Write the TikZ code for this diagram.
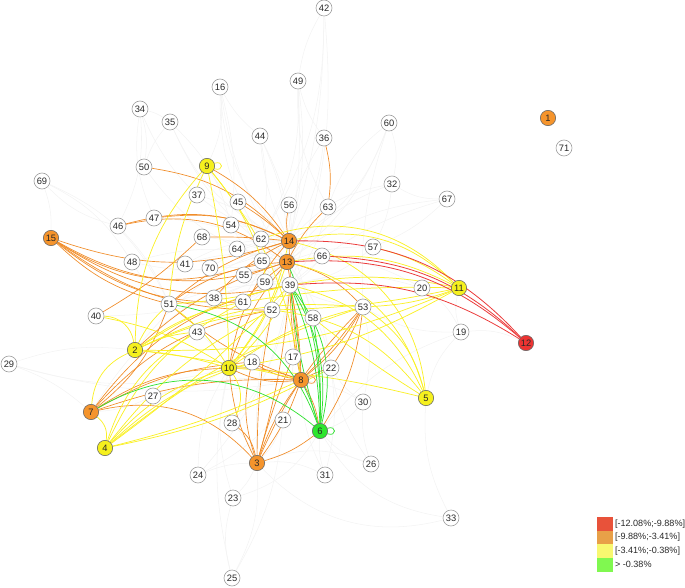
\documentclass[tikz,border=0pt]{standalone}
\usepackage{fontspec}
\setmainfont{Liberation Sans}
\pgfdeclarelayer{bg}
\pgfsetlayers{bg,main}
\definecolor{nor}{RGB}{245,148,44}
\definecolor{nye}{RGB}{245,240,30}
\definecolor{ngr}{RGB}{45,230,45}
\definecolor{nrd}{RGB}{236,52,50}
\definecolor{eor}{RGB}{240,140,40}
\definecolor{eye}{RGB}{250,240,40}
\definecolor{egr}{RGB}{50,225,50}
\definecolor{erd}{RGB}{235,60,60}
\definecolor{egy}{RGB}{243,243,243}
\definecolor{lrd}{RGB}{232,82,58}
\definecolor{lor}{RGB}{232,160,72}
\definecolor{lye}{RGB}{248,248,112}
\definecolor{lgr}{RGB}{128,248,80}
\definecolor{txt}{RGB}{40,40,40}
\tikzset{
  wn/.style={circle,draw=gray!75,fill=white,minimum size=12pt,inner sep=0pt,line width=0.45pt,
    font=\fontsize{7}{7}\selectfont,text=txt},
  on/.style={wn,fill=nor,draw=gray!80!black,minimum size=11.5pt},
  yn/.style={wn,fill=nye,draw=gray!80!black,minimum size=11.5pt},
  gn/.style={wn,fill=ngr,draw=gray!80!black,minimum size=11.5pt},
  rn/.style={wn,fill=nrd,draw=gray!80!black,minimum size=11.5pt},
  e-or/.style={draw=eor,line width=0.5pt},
  e-ye/.style={draw=eye,line width=0.55pt},
  e-gr/.style={draw=egr,line width=0.55pt},
  e-rd/.style={draw=erd,line width=0.6pt},
  e-gy/.style={draw=egy,line width=0.4pt},
  legsq/.style={minimum width=12pt,minimum height=10.2pt,inner sep=0pt,draw=none},
  legtx/.style={anchor=west,inner sep=0pt,font=\fontsize{6.8}{7}\selectfont,text=txt}
}
\begin{document}
\begin{tikzpicture}[x=0.75pt,y=0.75pt]
\useasboundingbox (0,0) rectangle (685,-588);
% nodes
\node[wn] (n42) at (324,-8) {42};
\node[wn] (n49) at (298,-81) {49};
\node[wn] (n16) at (220,-87) {16};
\node[wn] (n34) at (140,-109) {34};
\node[wn] (n35) at (170,-122) {35};
\node[wn] (n44) at (260,-136) {44};
\node[wn] (n36) at (324,-138) {36};
\node[wn] (n60) at (389,-123) {60};
\node[on] (n1) at (548,-118) {1};
\node[wn] (n71) at (564,-148) {71};
\node[wn] (n50) at (144,-167) {50};
\node[yn] (n9) at (207,-166) {9};
\node[wn] (n69) at (42,-181) {69};
\node[wn] (n32) at (392,-184) {32};
\node[wn] (n67) at (447,-199) {67};
\node[wn] (n37) at (197,-195) {37};
\node[wn] (n45) at (238,-202) {45};
\node[wn] (n56) at (289,-205) {56};
\node[wn] (n63) at (328,-207) {63};
\node[wn] (n47) at (154,-218) {47};
\node[wn] (n46) at (118,-226) {46};
\node[wn] (n54) at (231,-225) {54};
\node[on] (n15) at (51,-238) {15};
\node[wn] (n68) at (202,-237) {68};
\node[wn] (n62) at (261,-239) {62};
\node[on] (n14) at (289,-241) {14};
\node[wn] (n64) at (237,-249) {64};
\node[wn] (n57) at (373,-247) {57};
\node[wn] (n66) at (322,-256) {66};
\node[on] (n13) at (287,-262) {13};
\node[wn] (n48) at (132,-262) {48};
\node[wn] (n41) at (185,-264) {41};
\node[wn] (n65) at (262,-261) {65};
\node[wn] (n70) at (210,-268) {70};
\node[wn] (n55) at (244,-275) {55};
\node[wn] (n59) at (265,-282) {59};
\node[wn] (n39) at (290,-285) {39};
\node[wn] (n20) at (422,-288) {20};
\node[yn] (n11) at (459,-288) {11};
\node[wn] (n38) at (214,-298) {38};
\node[wn] (n61) at (243,-302) {61};
\node[wn] (n51) at (169,-304) {51};
\node[wn] (n52) at (272,-310) {52};
\node[wn] (n53) at (363,-307) {53};
\node[wn] (n40) at (96,-316) {40};
\node[wn] (n58) at (313,-318) {58};
\node[wn] (n19) at (461,-332) {19};
\node[rn] (n12) at (526,-343) {12};
\node[wn] (n43) at (197,-332) {43};
\node[yn] (n2) at (135,-350) {2};
\node[wn] (n29) at (9,-364) {29};
\node[wn] (n18) at (252,-362) {18};
\node[wn] (n17) at (293,-357) {17};
\node[yn] (n10) at (229,-368) {10};
\node[wn] (n22) at (331,-368) {22};
\node[on] (n8) at (301,-380) {8};
\node[yn] (n5) at (426,-398) {5};
\node[wn] (n27) at (153,-396) {27};
\node[on] (n7) at (91,-412) {7};
\node[wn] (n30) at (363,-402) {30};
\node[wn] (n28) at (232,-423) {28};
\node[wn] (n21) at (283,-420) {21};
\node[gn] (n6) at (320,-431) {6};
\node[yn] (n4) at (105,-448) {4};
\node[on] (n3) at (257,-463) {3};
\node[wn] (n26) at (371,-464) {26};
\node[wn] (n24) at (198,-475) {24};
\node[wn] (n31) at (325,-475) {31};
\node[wn] (n23) at (233,-498) {23};
\node[wn] (n33) at (451,-518) {33};
\node[wn] (n25) at (232,-578) {25};
% legend
\node[legsq,fill=lrd] (l1) at (604.5,-524) {};
\node[legsq,fill=lor] (l2) at (604.5,-537.6) {};
\node[legsq,fill=lye] (l3) at (604.5,-551.2) {};
\node[legsq,fill=lgr] (l4) at (604.5,-564.8) {};
\node[legtx] (t1) at ([xshift=1.5pt]l1.east) {[-12.08\%;-9.88\%]};
\node[legtx] (t2) at ([xshift=1.5pt]l2.east) {[-9.88\%;-3.41\%]};
\node[legtx] (t3) at ([xshift=1.5pt]l3.east) {[-3.41\%;-0.38\%]};
\node[legtx] (t4) at ([xshift=1.5pt]l4.east) {> -0.38\%};
\begin{pgfonlayer}{bg}
% faint gray edges
\foreach \a/\b/\c in {n42/n49/-10,n42/n39/12,n42/n62/15,n42/n14/8,n49/n14/10,n49/n63/-15,n49/n36/-10,n49/n62/15,n49/n13/6,
 n16/n9/15,n16/n44/-10,n16/n62/-15,n16/n14/-20,n16/n13/-12,n16/n54/10,n34/n50/12,n34/n35/10,n34/n47/-15,n34/n46/15,n34/n14/-25,
 n35/n50/-10,n35/n54/15,n35/n14/-20,n35/n13/-15,n44/n62/10,n44/n14/-10,n44/n13/12,n44/n39/15,n36/n14/12,n36/n13/-15,
 n60/n32/15,n60/n63/-15,n60/n14/20,n60/n13/15,n60/n53/-10,n32/n67/-15,n32/n57/10,n32/n13/-15,n32/n14/-18,n67/n13/-15,n67/n57/10,n67/n39/-12,
 n69/n46/-15,n69/n48/15,n69/n51/20,n69/n15/10,n48/n51/-10,n48/n13/15,n41/n13/15,n70/n14/15,n64/n14/10,n65/n14/10,n55/n13/10,
 n59/n13/10,n38/n13/15,n61/n14/12,n57/n13/-10,n66/n13/10,n66/n39/10,n20/n13/-18,n20/n19/15,n19/n12/15,n19/n5/-15,n19/n53/15,
 n19/n11/15,n19/n6/-15,n29/n10/-15,n29/n7/10,n29/n2/12,n29/n8/-12,n30/n6/15,n30/n22/10,n30/n53/-12,n30/n8/-10,n26/n6/15,n26/n3/-20,
 n26/n30/10,n26/n22/12,n31/n6/10,n31/n3/-15,n31/n22/-10,n31/n8/12,n33/n5/15,n33/n6/25,n33/n3/30,n24/n3/10,n24/n10/15,n24/n8/-15,
 n23/n3/-10,n23/n10/15,n23/n6/-20,n25/n23/15,n25/n3/-15,n25/n21/-12,n25/n10/12,n27/n7/10,n27/n10/-10,n27/n8/10,n28/n3/10,n21/n3/12,
 n17/n8/10,n18/n10/10,n43/n10/10,n58/n39/10,n22/n39/-15,n37/n9/10,n45/n9/10,n54/n14/10,n47/n13/15,n46/n51/10,n50/n13/-20,
 n37/n13/20,n41/n14/15,n62/n13/10,n65/n39/10,n55/n39/15,n61/n39/10,n59/n39/10,n70/n39/15,n64/n39/15,n68/n13/10,n54/n39/-15,
 n45/n39/-15,n56/n13/10,n63/n39/10,n57/n39/15,n53/n39/10,n20/n39/-15,n17/n39/10,n18/n39/10,n43/n13/-15,n38/n39/15,n40/n13/-15,
 n48/n14/-20,n28/n39/-15,n21/n39/-10,n24/n39/-15,n2/n14/15,n51/n39/10,n58/n13/-10,n22/n13/-15,n3/n13/10,n6/n14/-10,n7/n13/20}
  \draw[e-gy] (\a) to[bend left=\c] (\b);
% orange edges
\foreach \a/\b/\c in {n15/n14/-18,n15/n13/-24,n15/n39/-22,n15/n52/-18,n15/n51/-14,n15/n61/-20,n15/n65/-26,
 n50/n14/18,n46/n14/20,n47/n14/16,n46/n13/24,n68/n14/3,n36/n63/10,n63/n13/-8,n56/n14/-10,n45/n14/5,n9/n14/12,n68/n40/6,
 n51/n13/15,n51/n14/12,n38/n14/10,n7/n10/15,n7/n18/12,n7/n8/10,n7/n52/18,n7/n39/20,n7/n51/-15,n7/n3/30,
 n3/n10/10,n3/n8/-8,n3/n8/8,n3/n39/-5,n3/n52/5,n3/n6/-10,n3/n28/-20,n3/n17/3,n3/n53/10,n3/n18/15,
 n8/n39/5,n8/n39/-5,n8/n14/3,n8/n13/-3,n8/n18/10,n8/n10/15,n8/n53/-10,n8/n22/5,n8/n6/10,n8/n10/-10,
 n53/n6/12,n53/n22/5,n53/n13/-15,n53/n8/5,n10/n14/15,n10/n13/10,n51/n8/-10,n2/n13/12,n61/n13/5}
  \draw[e-or] (\a) to[bend left=\c] (\b);
% yellow edges
\foreach \a/\b/\c in {n11/n14/-28,n11/n13/-18,n11/n62/-32,n11/n39/-10,n11/n53/8,n11/n52/5,n11/n10/10,n11/n2/12,n11/n61/-5,n11/n57/-10,
 n5/n53/-20,n5/n39/-25,n5/n13/-30,n5/n52/-22,n5/n58/3,n5/n14/-35,n5/n10/-5,
 n9/n51/-10,n9/n10/5,n9/n52/15,n9/n2/-20,n9/n8/15,
 n2/n43/10,n2/n10/5,n2/n39/10,n2/n52/8,n2/n61/12,n2/n51/10,n2/n8/3,n2/n53/15,
 n40/n2/40,n40/n10/10,n7/n2/30,n7/n4/30,
 n4/n10/15,n4/n43/20,n4/n52/12,n4/n39/-5,n4/n8/-5,n4/n18/12,n4/n22/-8,n4/n61/18,n4/n53/10,
 n10/n39/-10,n10/n53/10,n10/n28/30,n10/n13/-10,n10/n14/-12,n51/n10/10,n51/n39/-5}
  \draw[e-ye] (\a) to[bend left=\c] (\b);
% green edges
\foreach \a/\b/\c in {n6/n39/-10,n6/n39/-18,n6/n39/-25,n6/n39/5,n6/n58/-5,n6/n7/-35,n6/n51/-30,n6/n13/-12,n6/n8/-5}
  \draw[e-gr] (\a) to[bend left=\c] (\b);
% red edges
\foreach \a/\b/\c in {n12/n13/-22,n12/n14/-24,n12/n39/-18,n12/n66/-20}
  \draw[e-rd] (\a) to[bend left=\c] (\b);
% self loops
\draw[e-ye] (n9.20) .. controls +(20:10) and +(-20:10) .. (n9.-20);
\draw[e-or] (n8.20) .. controls +(20:10) and +(-20:10) .. (n8.-20);
\draw[e-gr] (n6.20) .. controls +(20:10) and +(-20:10) .. (n6.-20);
\end{pgfonlayer}
\end{tikzpicture}
\end{document}
